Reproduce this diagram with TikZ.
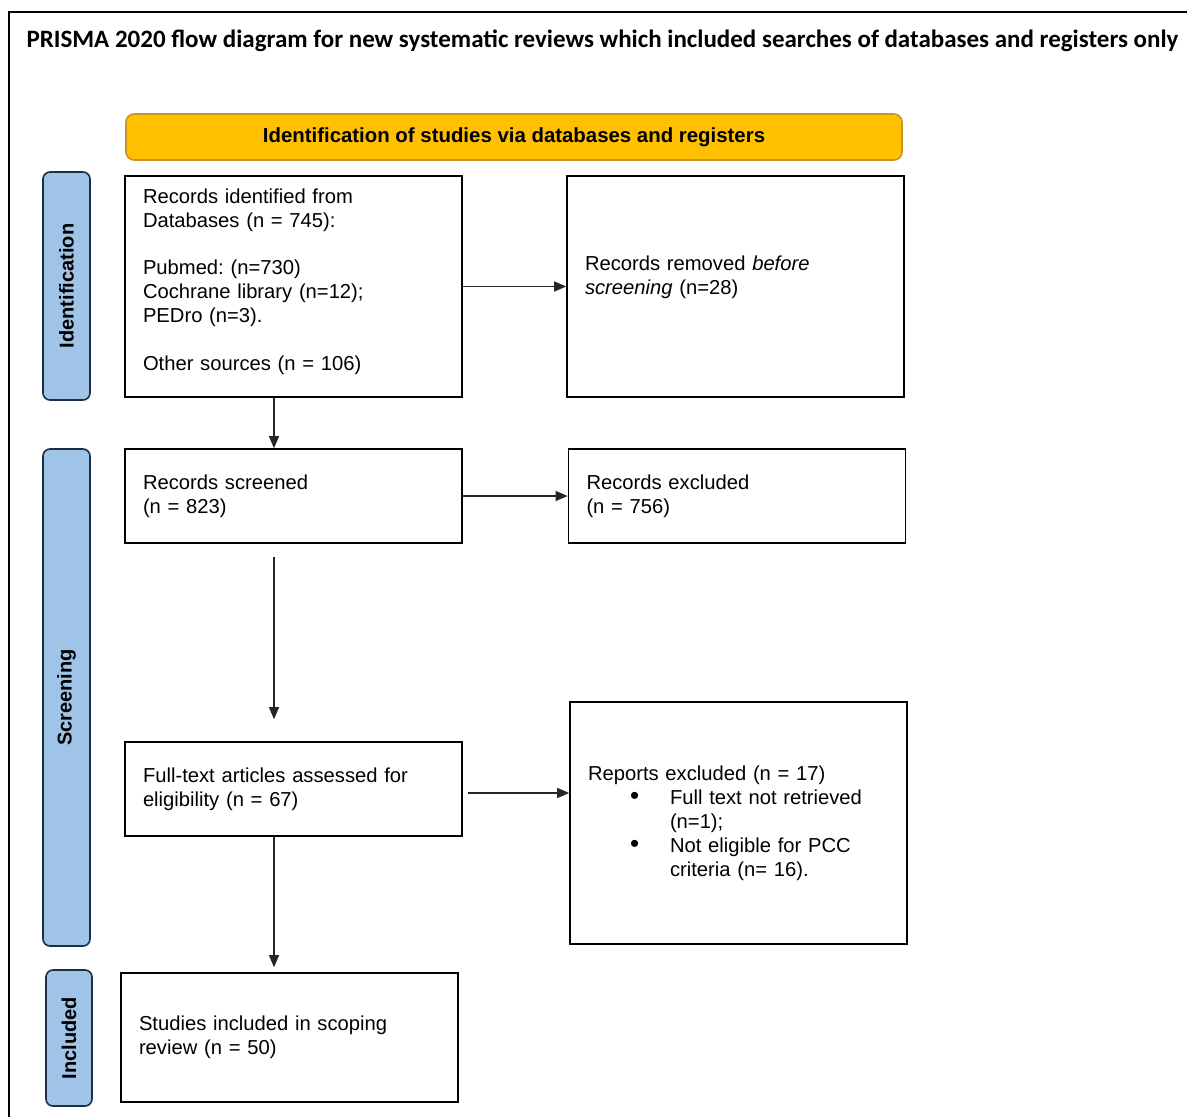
\documentclass[tikz,border=0pt]{standalone}
\usepackage{fontspec}
\setmainfont{Liberation Sans}
\newfontfamily\titlefont{Carlito}
\usepackage{xcolor}
\usepackage{tikz}
\usetikzlibrary{positioning, arrows.meta, shapes}
\frenchspacing

\definecolor{bannerfill}{RGB}{255,192,0}
\definecolor{bannerline}{RGB}{200,150,30}
\definecolor{phasefill}{RGB}{160,196,232}
\definecolor{phaseline}{RGB}{30,45,70}
\newcommand{\bulletmark}{\makebox[40pt][l]{\fontsize{26}{24}\selectfont•}}

\begin{document}
\begin{tikzpicture}[x=1pt,y=1pt,yscale=-1,
  flowbox/.style={draw, line width=1.6pt, rectangle, text width=301pt, inner xsep=18pt, align=left,
    font=\fontsize{20.2}{24}\selectfont},
  phase/.style={draw=phaseline, fill=phasefill, line width=1.6pt, rounded corners=7pt, rotate=90,
    font=\fontsize{20}{24}\selectfont\bfseries},
  flowarrow/.style={draw=black!85, line width=1.2pt, -{Triangle[length=12pt,width=10pt]}}]
\useasboundingbox (0,0) rectangle (1187,1117);
% outer frame
\draw [line width=1.8pt] (9,1117) -- (9,12) -- (1187,12);
% Text Node
\node (title) at (602.5,40.5) {\titlefont\bfseries\fontsize{25}{28}\selectfont PRISMA 2020 flow diagram for new systematic reviews which included searches of databases and registers only};
\node (banner) [draw=bannerline, fill=bannerfill, line width=1.6pt, rounded corners=8pt, minimum width=776pt, minimum height=46pt, font=\fontsize{20.4}{24}\selectfont\bfseries] at (514,137) {Identification of studies via databases and registers};
% phases
\node (phaseid) [phase, minimum width=228pt, minimum height=47pt] at (66.5,286) {Identification};
\node (phasescr) [phase, minimum width=497pt, minimum height=47pt] at (66.5,697.5) {Screening};
\node (phaseinc) [phase, minimum width=136pt, minimum height=46pt] at (69,1038) {Included};
% boxes
\node (records) [flowbox, minimum height=221pt] at (293.5,286.5) {Records identified from\\Databases (n = 745):\\[23.5pt]Pubmed: (n=730)\\Cochrane library (n=12);\\PEDro (n=3).\\[23.5pt]Other sources (n = 106)\\[-10pt]\mbox{}};
\node (removed) [flowbox, minimum height=221pt] at (735.5,286.5) {Records removed \textit{before}\\\textit{screening} (n=28)\\[-2pt]\mbox{}};
\node (screened) [flowbox, minimum height=94pt] at (293.5,496) {Records screened\\(n = 823)};
\node (excluded) [flowbox, minimum height=94pt] at (737,496) {Records excluded\\(n = 756)};
\node (fulltext) [flowbox, minimum height=94pt] at (293.5,789) {Full-text articles assessed for\\eligibility (n = 67)};
\node (reports) [flowbox, minimum height=242pt] at (738.5,823) {Reports excluded (n = 17)\\
  \hspace*{42pt}\bulletmark Full text not retrieved\\
  \hspace*{82pt}(n=1);\\
  \hspace*{42pt}\bulletmark Not eligible for PCC\\
  \hspace*{82pt}criteria (n= 16).};
\node (included) [flowbox, minimum height=129pt] at (289.5,1037.5) {Studies included in scoping\\review (n = 50)};
% connectors
\draw [flowarrow] (records.east) -- (removed.west);
\draw [flowarrow] ([xshift=-19.5pt]records.south) -- ([xshift=-19.5pt]records.south |- screened.north);
\draw [flowarrow] (screened.east) -- (excluded.west);
\draw [flowarrow, shorten <=13pt, shorten >=22pt] ([xshift=-19.5pt]screened.south) -- ([xshift=-19.5pt]screened.south |- fulltext.north);
\draw [flowarrow, shorten <=5pt] ([yshift=4pt]fulltext.east) -- ([yshift=4pt]fulltext.east -| reports.west);
\draw [flowarrow, shorten >=5pt] ([xshift=-19.5pt]fulltext.south) -- ([xshift=-19.5pt]fulltext.south |- included.north);
\end{tikzpicture}
\end{document}
